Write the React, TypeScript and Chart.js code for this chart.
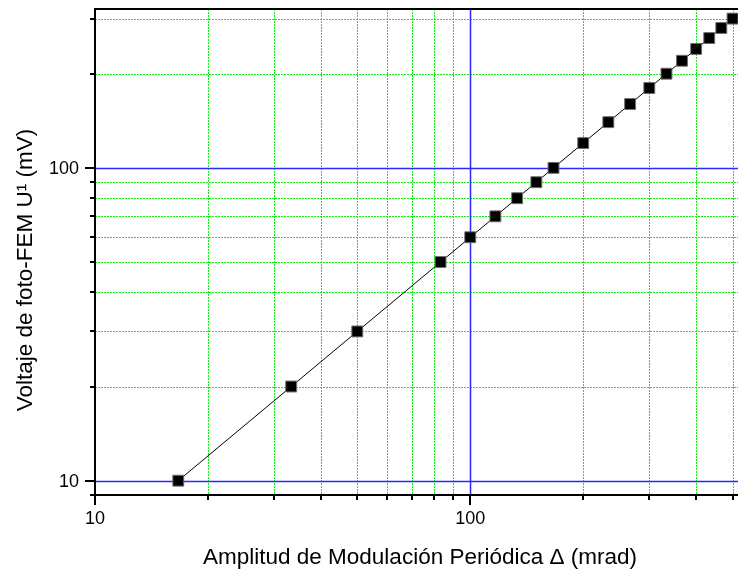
import { useEffect, useRef } from 'react';
import { Chart, registerables } from 'chart.js';

Chart.register(...registerables);

// Data
const amplitudeMrad = [16.67, 33.33, 50, 83.33, 100, 116.67, 133.33, 150, 166.67, 200, 233.33, 266.67, 300, 333.33, 366.67, 400, 433.33, 466.67, 500];
const voltageMv = [10, 20, 30, 50, 60, 70, 80, 90, 100, 120, 140, 160, 180, 200, 220, 240, 260, 280, 300];

const xTickValues = [10, 20, 30, 40, 50, 60, 70, 80, 90, 100, 200, 300, 400, 500];
const yTickValues = [9, 10, 20, 30, 40, 50, 60, 70, 80, 90, 100, 200, 300];
const majorValues = [10, 100];

const xTitle = 'Amplitud de Modulación Periódica Δ (mrad)';
const yTitle = 'Voltaje de foto-FEM U¹ (mV)';

const X_MIN = 10;
const X_MAX = 517;
const Y_MIN = 9;
const Y_MAX = 322;

const FONT = '"Liberation Sans", Arial, sans-serif';

const framePlugin = {
  id: 'frame',
  beforeDatasetsDraw(chart: any) {
    const { ctx, chartArea: a, scales } = chart;
    const x = scales.x;
    const y = scales.y;
    ctx.save();
    // minor grid (green dotted)
    ctx.lineWidth = 1;
    ctx.setLineDash([2, 1]);
    ctx.strokeStyle = 'rgb(20,235,20)';
    for (const v of xTickValues) {
      if (majorValues.includes(v)) continue;
      const px = Math.round(x.getPixelForValue(v)) + 0.5;
      ctx.beginPath();
      ctx.moveTo(px, a.top);
      ctx.lineTo(px, a.bottom);
      ctx.stroke();
    }
    for (const v of yTickValues) {
      if (majorValues.includes(v) || v <= Y_MIN) continue;
      const py = Math.round(y.getPixelForValue(v)) + 0.5;
      ctx.beginPath();
      ctx.moveTo(a.left, py);
      ctx.lineTo(a.right, py);
      ctx.stroke();
    }
    // major grid (blue)
    ctx.setLineDash([]);
    ctx.strokeStyle = '#2a2aff';
    ctx.lineWidth = 1.5;
    for (const v of majorValues) {
      if (v > X_MIN) {
        const px = Math.round(x.getPixelForValue(v)) + 0.5;
        ctx.beginPath();
        ctx.moveTo(px, a.top);
        ctx.lineTo(px, a.bottom);
        ctx.stroke();
      }
      if (v > Y_MIN) {
        const py = Math.round(y.getPixelForValue(v)) + 0.5;
        ctx.beginPath();
        ctx.moveTo(a.left, py);
        ctx.lineTo(a.right, py);
        ctx.stroke();
      }
    }
    ctx.restore();
  },
  afterDraw(chart: any) {
    const { ctx, chartArea: a, scales } = chart;
    const x = scales.x;
    const y = scales.y;
    ctx.save();
    ctx.strokeStyle = '#000';
    ctx.lineWidth = 2;
    // frame: left, bottom, top
    ctx.beginPath();
    ctx.moveTo(a.right, a.top);
    ctx.lineTo(a.left, a.top);
    ctx.lineTo(a.left, a.bottom);
    ctx.lineTo(a.right, a.bottom);
    ctx.stroke();
    // ticks
    for (const v of xTickValues) {
      const px = Math.round(x.getPixelForValue(v));
      const len = majorValues.includes(v) ? 10 : 5;
      ctx.beginPath();
      ctx.moveTo(px, a.bottom);
      ctx.lineTo(px, a.bottom + len);
      ctx.stroke();
    }
    for (const v of yTickValues) {
      const py = Math.round(y.getPixelForValue(v));
      const len = majorValues.includes(v) ? 10 : 5;
      ctx.beginPath();
      ctx.moveTo(a.left, py);
      ctx.lineTo(a.left - len, py);
      ctx.stroke();
    }
    // tick labels
    ctx.fillStyle = '#000';
    ctx.font = `18px ${FONT}`;
    ctx.textAlign = 'center';
    ctx.textBaseline = 'middle';
    for (const v of majorValues) {
      ctx.fillText(String(v), x.getPixelForValue(v), a.bottom + 24);
    }
    ctx.textAlign = 'right';
    for (const v of majorValues) {
      ctx.fillText(String(v), a.left - 16, y.getPixelForValue(v) + 1);
    }
    // axis titles
    ctx.font = `22.5px ${FONT}`;
    ctx.textAlign = 'center';
    ctx.textBaseline = 'alphabetic';
    ctx.fillText(xTitle, 420, 564);
    ctx.save();
    ctx.translate(32, 270);
    ctx.rotate(-Math.PI / 2);
    ctx.fillText(yTitle, 0, 0);
    ctx.restore();
    ctx.restore();
  },
};

export default function App() {
  const canvasRef = useRef<HTMLCanvasElement | null>(null);

  useEffect(() => {
    if (!canvasRef.current) return;
    const chart = new Chart(canvasRef.current, {
      type: 'line',
      data: {
        datasets: [
          {
            data: amplitudeMrad.map((v, i) => ({ x: v, y: voltageMv[i] })),
            borderColor: '#000',
            borderWidth: 1,
            pointStyle: 'rect',
            pointRadius: 7.7,
            pointHoverRadius: 7.7,
            pointBackgroundColor: '#000',
            pointBorderColor: '#6e6e6e',
            pointBorderWidth: 1,
            tension: 0,
            clip: false as any,
          },
        ],
      },
      options: {
        animation: false,
        responsive: false,
        events: [],
        layout: { autoPadding: false, padding: { top: 9, left: 0, right: 0, bottom: 0 } },
        plugins: {
          legend: { display: false },
          tooltip: { enabled: false },
        },
        scales: {
          x: {
            type: 'logarithmic',
            min: X_MIN,
            max: X_MAX,
            ticks: { display: false },
            grid: { display: false },
            border: { display: false },
            afterFit: (s: any) => {
              s.height = 79;
            },
          },
          y: {
            type: 'logarithmic',
            min: Y_MIN,
            max: Y_MAX,
            ticks: { display: false },
            grid: { display: false },
            border: { display: false },
            afterFit: (s: any) => {
              s.width = 95;
            },
          },
        },
      },
      plugins: [framePlugin],
    });
    return () => chart.destroy();
  }, []);

  return (
    <div style={{ position: 'fixed', left: 0, top: 0, width: 738, height: 574, background: '#fff' }}>
      <canvas ref={canvasRef} width={738} height={574} style={{ display: 'block' }} />
    </div>
  );
}
